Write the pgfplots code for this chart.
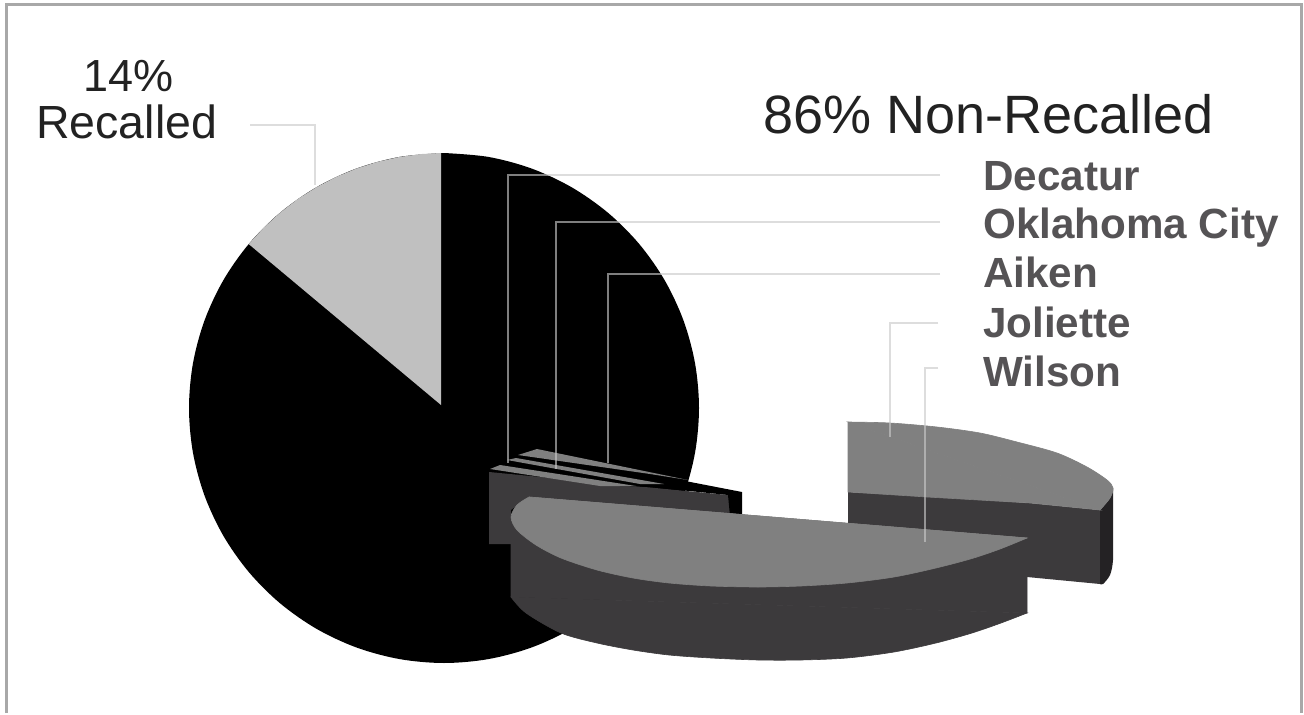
\documentclass[border=0pt]{standalone}
\usepackage{pgfplots}
\pgfplotsset{compat=1.18}
\usepackage{fontspec}
\setmainfont{Liberation Sans}
\definecolor{frameline}{HTML}{A8A8A8}
\definecolor{recalled}{HTML}{C0C0C0}
\definecolor{slicetop}{HTML}{808080}
\definecolor{sliceface}{HTML}{3C3A3C}
\definecolor{sliceedge}{HTML}{242224}
\definecolor{leader}{HTML}{CACACA}
\definecolor{labeltext}{HTML}{555355}
\definecolor{headtext}{HTML}{222222}
\begin{document}
\begin{tikzpicture}
\begin{axis}[
  scale only axis, width=1304pt, height=713pt,
  xmin=0, xmax=1304, ymin=0, ymax=713, y dir=reverse,
  hide axis, clip=false,
  leaderline/.style={draw=leader, opacity=0.63, line width=1.3pt},
]
% page background and open-bottomed chart frame
\addplot[fill=white, draw=none] coordinates {(0,0) (1304,0) (1304,713) (0,713)} --cycle;
\addplot[draw=frameline, line width=3pt] coordinates {(6.5,713) (6.5,5) (1301,5) (1301,713)};

% main pie disc
\addplot[fill=black, draw=none, smooth, tension=0.55] coordinates {
(444,153) (488.3,156.9) (531.2,168.4) (571.5,187.2) (607.9,212.7) (639.3,244.1)
(664.8,280.5) (683.6,320.8) (695.1,363.7) (699,408) (695.1,452.3) (683.6,495.2)
(664.8,535.5) (639.3,571.9) (607.9,603.3) (571.5,628.8) (531.2,647.6) (488.3,659.1)
(444,663) (399.7,659.1) (356.8,647.6) (316.5,628.8) (280.1,603.3) (248.7,571.9)
(223.2,535.5) (204.4,495.2) (192.9,452.3) (189,408) (192.9,363.7) (204.4,320.8)
(223.2,280.5) (248.7,244.1) (280.1,212.7) (316.5,187.2) (356.8,168.4) (399.7,156.9) (444,153)
} --cycle;

% recalled wedge, 14%
\addplot[fill=recalled, draw=none] coordinates {
(441,405) (441,153) (421.8,154) (399.7,156.9) (378,161.7) (356.8,168.4) (336.2,176.9)
(316.5,187.2) (297.7,199.1) (280.1,212.7) (263.7,227.7) (248.7,244.1)
} --cycle;

% thin exploded slices behind Wilson
\addplot[fill=sliceface, draw=none] coordinates {
(489,472) (728,495) (742,516) (529,497) (511,510) (511,544) (489,544)
} --cycle;
\addplot[fill=black, draw=none] coordinates {
(680,480) (742,492) (742,516) (730,516) (728,495) (660,488)
} --cycle;
\addplot[fill=slicetop, draw=none] coordinates {(518,455) (537,449) (688,480) (650,474)} --cycle;
\addplot[fill=black, draw=none] coordinates {(518,456) (650,475) (680,482) (640,480) (520,461)} --cycle;
\addplot[fill=slicetop, draw=none] coordinates {(507,460) (516,458) (664,484) (640,484)} --cycle;
\addplot[fill=black, draw=none] coordinates {(506,463) (640,485) (660,487) (620,486) (510,466)} --cycle;
\addplot[fill=slicetop, draw=none] coordinates {(490,469) (500,465) (636,486) (600,486)} --cycle;

% Joliette slice
\addplot[fill=sliceface, draw=none] coordinates {
(848,492) (927,496) (1030,503) (1100,510) (1100,584) (1027,577) (900,535) (848,525)
} --cycle;
\addplot[fill=sliceedge, draw=none, smooth] coordinates {
(1100,510) (1110,498) (1113,488) (1113,530) (1113,560) (1110,575) (1103,584) (1100,584)
} --cycle;
\addplot[fill=slicetop, draw=slicetop, line width=0.6pt] coordinates {
(848,422) (1100,510) (1030,503) (927,497) (848,492)
} --cycle;
\addplot[fill=slicetop, draw=slicetop, line width=0.6pt, smooth] coordinates {
(848,422) (890,423) (937,427) (980,433) (1017,442) (1057,453) (1087,467) (1107,480)
(1113,488) (1110,498) (1100,510)
} --cycle;

% Wilson slice
\addplot[fill=sliceface, draw=sliceface, line width=0.6pt] coordinates {
(511,517) (511,597) (1027,613) (1027,540)
} --cycle;
\addplot[fill=sliceface, draw=sliceface, line width=0.6pt, smooth] coordinates {
(511,597) (526,613) (561,633) (597,643) (633,650) (669,655) (711,658)
(758,660) (801,660) (847,658) (894,652) (936,643) (972,633) (1001,623) (1027,613)
} --cycle;
\addplot[fill=slicetop, draw=slicetop, line width=0.6pt] coordinates {
(529,497) (740,515) (847,525) (1027,538)
} --cycle;
\addplot[fill=slicetop, draw=slicetop, line width=0.6pt, smooth] coordinates {
(529,497) (517,505) (511,517) (517,530) (536,545) (561,558) (597,570) (633,578)
(669,583) (711,586) (758,587) (801,586) (847,583) (894,577) (936,568) (972,558.5)
(1000,549) (1027,538)
} --cycle;

% leader lines
\addplot[leaderline] coordinates {(250,125) (315,125) (315,185)};
\addplot[leaderline] coordinates {(940,175) (508,175) (508,463)};
\addplot[leaderline] coordinates {(940,222) (556,222) (556,469)};
\addplot[leaderline] coordinates {(940,274) (608,274) (608,463)};
\addplot[leaderline] coordinates {(938,323) (890,323) (890,437)};
\addplot[leaderline] coordinates {(938,368) (925,368) (925,542)};

% text
\node[anchor=base west, inner sep=0pt, text=headtext, font=\fontsize{45}{50}\selectfont] at (axis cs:83,92) {14\%};
\node[anchor=base west, inner sep=0pt, text=headtext, font=\fontsize{46.5}{50}\selectfont] at (axis cs:36,138) {Recalled};
\node[anchor=base west, inner sep=0pt, text=headtext, font=\fontsize{54}{60}\selectfont] at (axis cs:763,133) {86\% Non-Recalled};
\node[anchor=base west, inner sep=0pt, text=labeltext, font=\fontsize{42.2}{46}\bfseries] at (axis cs:983,190) {Decatur};
\node[anchor=base west, inner sep=0pt, text=labeltext, font=\fontsize{42.2}{46}\bfseries] at (axis cs:983,238) {Oklahoma City};
\node[anchor=base west, inner sep=0pt, text=labeltext, font=\fontsize{42.2}{46}\bfseries] at (axis cs:983,287) {Aiken};
\node[anchor=base west, inner sep=0pt, text=labeltext, font=\fontsize{42.2}{46}\bfseries] at (axis cs:983,337) {Joliette};
\node[anchor=base west, inner sep=0pt, text=labeltext, font=\fontsize{42.2}{46}\bfseries] at (axis cs:983,386) {Wilson};
\end{axis}
\end{tikzpicture}
\end{document}
